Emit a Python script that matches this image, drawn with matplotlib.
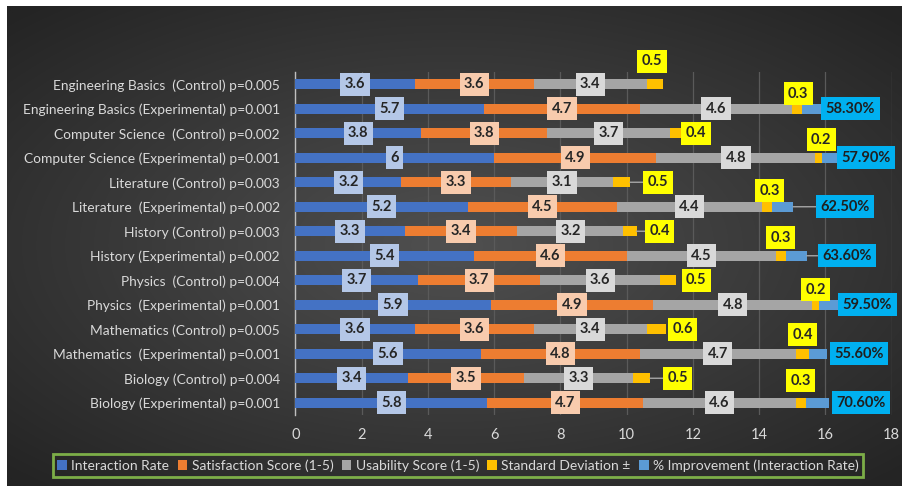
import numpy as np
import matplotlib
matplotlib.use("Agg")
import matplotlib.pyplot as plt
from matplotlib.patches import Patch

plt.rcParams['font.family'] = ['Lato', 'DejaVu Sans']

# ---------------- data (bottom -> top) ----------------
categories = [
    "Biology (Experimental) p=0.001",
    "Biology (Control) p=0.004",
    "Mathematics  (Experimental) p=0.001",
    "Mathematics (Control) p=0.005",
    "Physics  (Experimental) p=0.001",
    "Physics  (Control) p=0.004",
    "History (Experimental) p=0.002",
    "History (Control) p=0.003",
    "Literature  (Experimental) p=0.002",
    "Literature (Control) p=0.003",
    "Computer Science (Experimental) p=0.001",
    "Computer Science  (Control) p=0.002",
    "Engineering Basics (Experimental) p=0.001",
    "Engineering Basics  (Control) p=0.005",
]
interaction_rate = [5.8, 3.4, 5.6, 3.6, 5.9, 3.7, 5.4, 3.3, 5.2, 3.2, 6.0, 3.8, 5.7, 3.6]
satisfaction = [4.7, 3.5, 4.8, 3.6, 4.9, 3.7, 4.6, 3.4, 4.5, 3.3, 4.9, 3.8, 4.7, 3.6]
usability = [4.6, 3.3, 4.7, 3.4, 4.8, 3.6, 4.5, 3.2, 4.4, 3.1, 4.8, 3.7, 4.6, 3.4]
std_dev = [0.3, 0.5, 0.4, 0.6, 0.2, 0.5, 0.3, 0.4, 0.3, 0.5, 0.2, 0.4, 0.3, 0.5]
improvement = [0.706, np.nan, 0.556, np.nan, 0.595, np.nan, 0.636, np.nan,
               0.625, np.nan, 0.579, np.nan, 0.583, np.nan]
series_names = ["Interaction Rate", "Satisfaction Score (1-5)", "Usability Score (1-5)",
                "Standard Deviation \u00b1", "% Improvement (Interaction Rate)"]

# ---------------- styles / label placement ----------------
colors = ["#4472c4", "#ed7d31", "#a5a5a5", "#ffc000", "#5b9bd5"]
box_colors = ["#b4c7e7", "#f8cbad", "#d9d9d9", "#ffff00", "#00b0f0"]
# offsets (pixels) of the std-dev label centres from the end of the std segment
std_offsets = [(-5, 22), (28, 0), (-6, 19), (16, 0), (-3, 15), (20, 0), (-5, 18),
               (23, 0), (-3, 16), (28, 0), (-1, 18), (13, 0), (-4, 15), (-11, 23)]
# offsets (pixels) of the % label centres from the end of the bar
pct_offsets = [32, None, 32, None, 29, None, 40, None, 52, None, 25, None, 29, None]

W, H = 902, 486
fig = plt.figure(figsize=(W / 100, H / 100), dpi=100)
fig.patch.set_facecolor("white")

# dark radial-gradient background panel
bg = fig.add_axes([7 / W, 0, 1 - 7 / W, 1 - 6 / H])
gx = np.linspace(-1, 1, 400)
gy = np.linspace(-1, 1, 220)
XX, YY = np.meshgrid(gx, gy)
R = np.sqrt((XX * 0.95) ** 2 + (YY * 1.0) ** 2)
R = np.clip(R / 1.35, 0, 1)
c_in = np.array([0x50, 0x50, 0x50]) / 255
c_out = np.array([0x24, 0x24, 0x24]) / 255
img = c_in[None, None, :] * (1 - R[..., None]) + c_out[None, None, :] * R[..., None]
bg.imshow(img, aspect="auto", extent=[0, 1, 0, 1], interpolation="bilinear")
bg.set_axis_off()
bg.set_zorder(-10)

ax = fig.add_axes([295.3 / W, 1 - 415 / H, (891.7 - 295.3) / W, (415 - 72) / H])
ax.set_facecolor("none")

y = np.arange(len(categories))
series = [interaction_rate, satisfaction, usability, std_dev, improvement]
left = np.zeros(len(categories))
bar_h = 0.42
lab_fs = 10.5
lab_pad = 0.3
for i, vals in enumerate(series):
    v = np.array(vals, dtype=float)
    vv = np.nan_to_num(v)
    ax.barh(y, vv, left=left, height=bar_h, color=colors[i], zorder=3,
            label=series_names[i])
    for k in range(len(categories)):
        if np.isnan(v[k]):
            continue
        box = dict(boxstyle=f"square,pad={lab_pad}", fc=box_colors[i], ec="none")
        if i < 3:
            ax.text(left[k] + vv[k] / 2, y[k], f"{v[k]:g}", ha="center", va="center",
                    fontsize=lab_fs, fontweight="bold", color="#262626", zorder=5,
                    bbox=box)
        elif i == 3:
            dx, dy = std_offsets[k]
            xe = left[k] + vv[k]
            arrow = (dict(arrowstyle="-", color="#a6a6a6", lw=1, shrinkA=0, shrinkB=0)
                     if dx > 20 else None)
            ax.annotate(f"{v[k]:g}", xy=(xe, y[k]), xytext=(dx, dy),
                        textcoords="offset pixels", ha="center", va="center",
                        fontsize=lab_fs, fontweight="bold", color="#262626", zorder=6,
                        arrowprops=arrow, bbox=box)
        else:
            dx = pct_offsets[k]
            xe = left[k] + vv[k]
            arrow = (dict(arrowstyle="-", color="#a6a6a6", lw=1, shrinkA=0, shrinkB=0)
                     if dx > 32 else None)
            ax.annotate(f"{v[k] * 100:.2f}%", xy=(xe, y[k]), xytext=(dx, 0),
                        textcoords="offset pixels", ha="center", va="center",
                        fontsize=lab_fs, fontweight="bold", color="#1f1f1f", zorder=6,
                        arrowprops=arrow, bbox=box)
    left = left + vv

ax.set_xlim(0, 18)
ax.set_ylim(-0.5, len(categories) - 0.5)
ax.set_xticks(np.arange(0, 19, 2))
ax.set_yticks(y)
ax.set_yticklabels(categories)
ax.tick_params(axis="both", colors="#d9d9d9", labelsize=10.5, length=0)
ax.tick_params(axis="y", labelsize=9.9)
ax.tick_params(axis="x", pad=9)
ax.tick_params(axis="y", pad=11)
ax.xaxis.grid(True, color="#5a5a5a", lw=0.9, zorder=0)
ax.set_axisbelow(True)
for s in ["top", "right", "bottom"]:
    ax.spines[s].set_visible(False)
ax.spines["left"].set_color("#bfbfbf")
ax.spines["left"].set_linewidth(1)

handles = [Patch(facecolor=c, edgecolor="none") for c in colors]
leg = fig.legend(handles, series_names, loc="center", ncol=5,
                 bbox_to_anchor=((52 + 864) / 2 / W, 1 - 465.5 / H),
                 frameon=True, fontsize=10, handlelength=0.7, handleheight=0.7,
                 handletextpad=0.3, columnspacing=0.6, borderpad=0.35,
                 labelcolor="#d9d9d9", fancybox=False)
leg.get_frame().set_facecolor("none")
leg.get_frame().set_edgecolor("#92d050")
leg.get_frame().set_linewidth(2)

fig.savefig("out.png", dpi=100)
